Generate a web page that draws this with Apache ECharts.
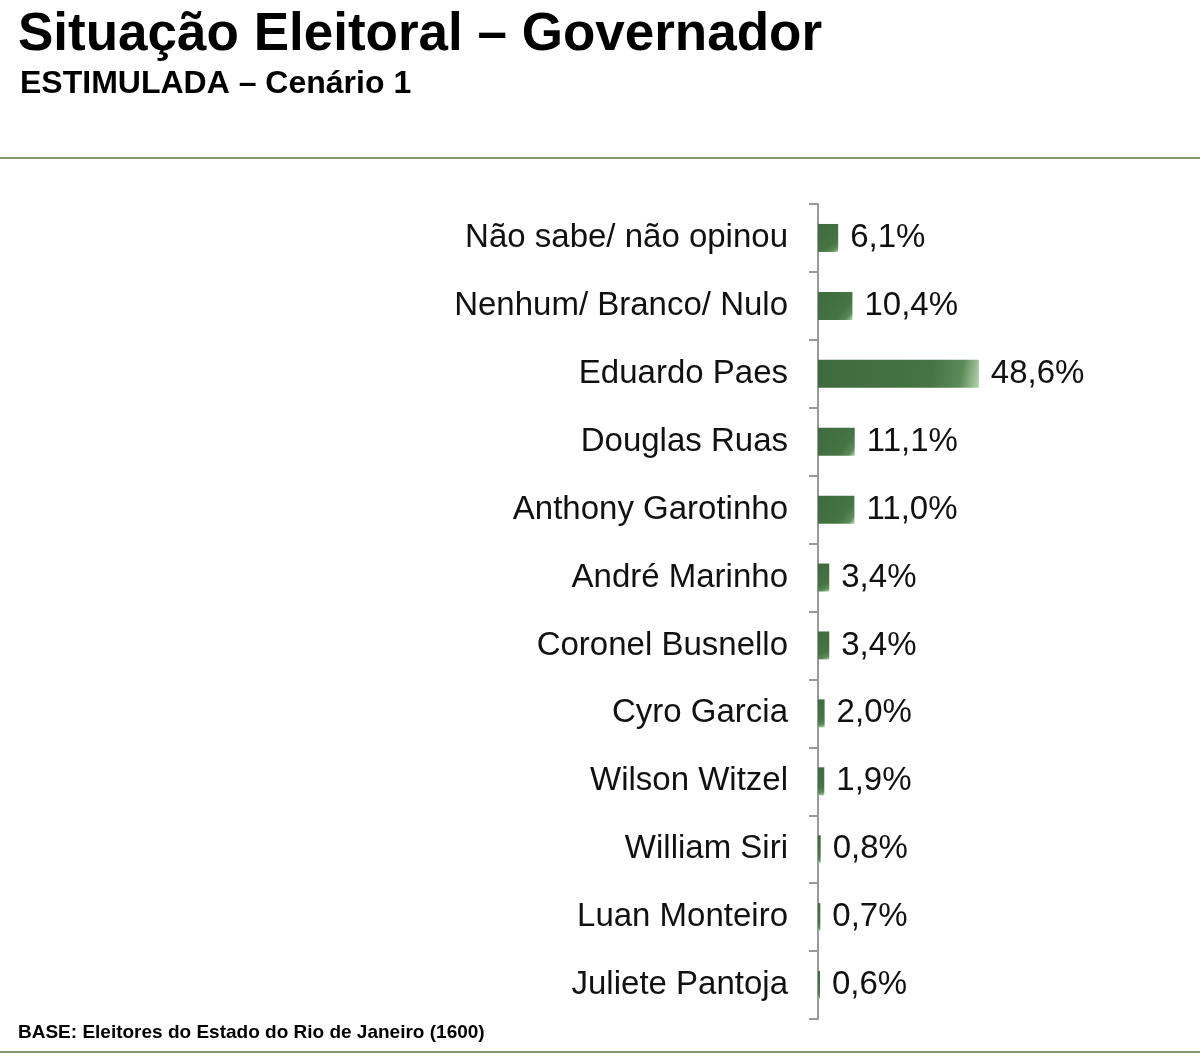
<!DOCTYPE html>
<html>
<head>
<meta charset="utf-8">
<script src="https://cdn.jsdelivr.net/npm/echarts@6/dist/echarts.min.js"></script>
<style>
  html, body { margin: 0; padding: 0; background: #fff; }
  #chart { width: 1200px; height: 1056px; }
</style>
</head>
<body>
<div id="chart"></div>
<script>
// categories top to bottom
const candidatos = [
    'Não sabe/ não opinou', 'Nenhum/ Branco/ Nulo', 'Eduardo Paes', 'Douglas Ruas',
    'Anthony Garotinho', 'André Marinho', 'Coronel Busnello', 'Cyro Garcia',
    'Wilson Witzel', 'William Siri', 'Luan Monteiro', 'Juliete Pantoja'
]
const percentuais = [6.1, 10.4, 48.6, 11.1, 11.0, 3.4, 3.4, 2.0, 1.9, 0.8, 0.7, 0.6]

const font = '"Liberation Sans", Arial, sans-serif'

const chart = echarts.init(document.getElementById('chart'))

const option = {
    backgroundColor: '#fff',
    animation: false,
    title: [
        {
            text: 'Situação Eleitoral – Governador',
            left: 13, top: 4,
            textStyle: { fontFamily: font, fontSize: 53, fontWeight: 'bold', color: '#000' }
        },
        {
            text: 'ESTIMULADA – Cenário 1',
            left: 15, top: 63,
            textStyle: { fontFamily: font, fontSize: 32, fontWeight: 'bold', color: '#000' }
        },
        {
            text: 'BASE: Eleitores do Estado do Rio de Janeiro (1600)',
            left: 13, top: 1018,
            textStyle: { fontFamily: font, fontSize: 19, fontWeight: 'bold', color: '#000' }
        }
    ],
    graphic: [
        { type: 'rect', shape: { x: 0, y: 157, width: 1200, height: 2 }, style: { fill: '#7f9a6e' } },
        { type: 'rect', shape: { x: 0, y: 1051, width: 1200, height: 2 }, style: { fill: '#7f9a6e' } }
    ],
    grid: { left: 818, top: 204, width: 331, height: 815, containLabel: false },
    xAxis: {
        type: 'value', min: 0, max: 100, show: false
    },
    yAxis: {
        type: 'category',
        data: candidatos,
        inverse: true,
        axisLine: { show: true, lineStyle: { color: '#999', width: 2 } },
        axisTick: { show: true, length: 9, lineStyle: { color: '#999', width: 2 } },
        axisLabel: { margin: 30, fontFamily: font, fontSize: 33, color: '#111', padding: [4, 0, 0, 0] },
        splitLine: { show: false }
    },
    series: [{
        type: 'bar',
        data: percentuais,
        barWidth: 28,
        itemStyle: {
            color: new echarts.graphic.LinearGradient(0, 0, 1, 1, [
                { offset: 0, color: '#3f6a3d' },
                { offset: 0.7, color: '#467445' },
                { offset: 0.88, color: '#5c8a59' },
                { offset: 1, color: '#b3d4ae' }
            ])
        },
        label: {
            show: true,
            position: 'right',
            distance: 12,
            fontFamily: font,
            fontSize: 33,
            color: '#111',
            padding: [4, 0, 0, 0],
            formatter: p => p.value.toFixed(1).replace('.', ',') + '%'
        }
    }]
}

chart.setOption(option)
</script>
</body>
</html>
